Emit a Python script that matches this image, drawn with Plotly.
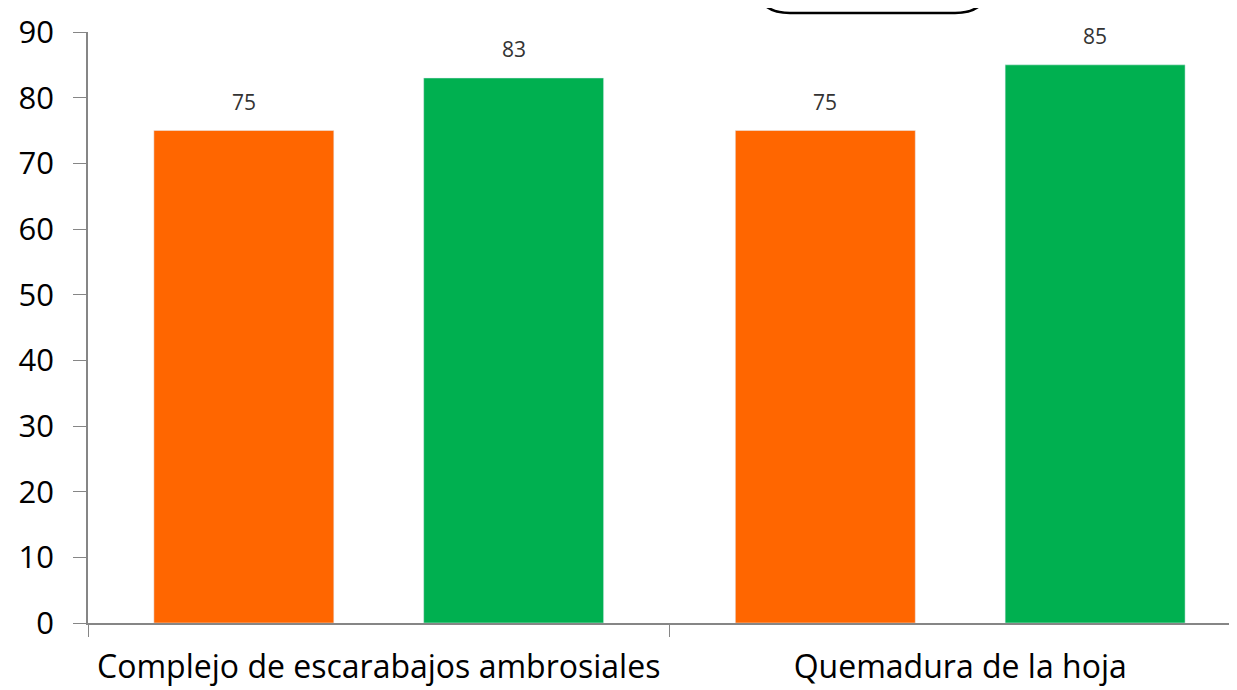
import plotly.graph_objects as go

categories = ["Complejo de escarabajos ambrosiales", "Quemadura de la hoja"]
series_a = [75, 75]
series_b = [83, 85]
y_ticks = [0, 10, 20, 30, 40, 50, 60, 70, 80, 90]

ORANGE = "#FF6600"
GREEN = "#00B050"
FONT = "Open Sans"

fig = go.Figure()
fig.add_trace(go.Bar(x=categories, y=series_a, marker_color=ORANGE, name="A"))
fig.add_trace(go.Bar(x=categories, y=series_b, marker_color=GREEN, name="B"))

# page body has an 8px margin, so the figure is offset by 8px
OFF = 8
W, H = 1237 - OFF, 690 - OFF
L, R, T, B = 88 - OFF, 0, 32 - OFF, 67
pw, ph = W - L - R, H - T - B

def px(xp):
    return (xp - OFF - L) / pw

def py(yp):
    return (H - B - (yp - OFF)) / ph

# data labels
for vals, shift in ((series_a, -135), (series_b, 135)):
    for c, v in zip(categories, vals):
        fig.add_annotation(x=c, y=v, text=str(v), showarrow=False, xshift=shift,
                           yanchor="bottom", yshift=13,
                           font=dict(family=FONT, size=21, color="#333333"))

# rounded box at the top (clipped)
path = (f"M {px(755)},{py(-40)} L {px(755)},{py(-22)} Q {px(755)},{py(13)} {px(790)},{py(13)} "
        f"L {px(955)},{py(13)} Q {px(990)},{py(13)} {px(990)},{py(-22)} L {px(990)},{py(-40)}")
fig.add_shape(type="path", path=path, xref="paper", yref="paper",
              line=dict(color="black", width=2.5))

fig.update_layout(
    width=W, height=H,
    margin=dict(l=L, r=R, t=T, b=B, pad=0, autoexpand=False),
    plot_bgcolor="white", paper_bgcolor="white",
    showlegend=False,
    barmode="group", bargap=0.072, bargroupgap=0.333,
    font=dict(family=FONT, color="black"),
)
fig.update_xaxes(range=[-0.5, 1.476], showline=True, linecolor="#868686", linewidth=1.5,
                 ticks="outside", tickson="boundaries", ticklen=12, tickcolor="#868686",
                 ticklabelstandoff=15,
                 tickfont=dict(family=FONT, size=32, color="black"), showgrid=False)
fig.update_yaxes(range=[0, 90], tickvals=y_ticks, showline=True, linecolor="#868686", linewidth=1.5,
                 ticks="outside", ticklen=13, tickcolor="#868686",
                 ticklabelstandoff=13,
                 tickfont=dict(family=FONT, size=31, color="black"), showgrid=False, zeroline=False)

fig.write_html("out.html")
